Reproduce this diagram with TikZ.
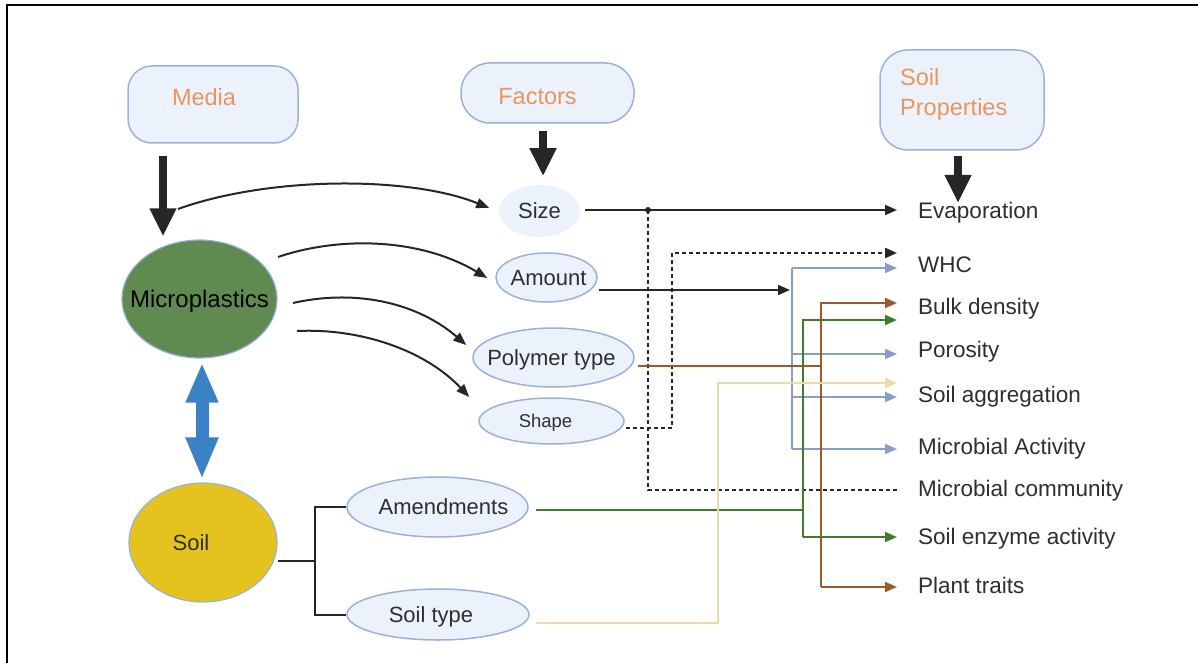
\documentclass[tikz,border=0pt]{standalone}
\usepackage{fontspec}
\setmainfont{Liberation Sans}
\usetikzlibrary{arrows.meta,shapes.geometric,calc}

\definecolor{boxfill}{HTML}{EBF2FB}
\definecolor{boxline}{HTML}{9BB1DC}
\definecolor{headtxt}{HTML}{E8955E}
\definecolor{mpgreen}{HTML}{5F8B50}
\definecolor{soilgold}{HTML}{E5C31F}
\definecolor{dblue}{HTML}{3A81C5}
\definecolor{busblue}{HTML}{8A9CC8}
\definecolor{brownln}{HTML}{9B5A2B}
\definecolor{greenln}{HTML}{3F7D2B}
\definecolor{beigeln}{HTML}{E8DCAE}
\definecolor{txt}{HTML}{2E2E2E}
\definecolor{ink}{HTML}{262626}

% zero-width text so that the ellipse keeps its given size
\newcommand{\zerowd}[1]{\makebox[0pt]{#1}}

\begin{document}
\begin{tikzpicture}[x=1pt,y=-1pt,
  headbox/.style={draw=boxline, line width=1.5pt, fill=boxfill, inner sep=0pt},
  headtext/.style={text=headtxt, font=\fontsize{23.5}{30}\selectfont, inner sep=0pt,
    text height=16.8pt, text depth=0pt},
  factor/.style={ellipse, draw=boxline, line width=1.5pt, fill=boxfill, inner sep=0pt,
    text=txt, font=\fontsize{22}{26}\selectfont, text height=15.8pt, text depth=0pt},
  prop/.style={anchor=west, inner sep=0pt, text=txt, font=\fontsize{22.5}{26}\selectfont,
    text height=16pt, text depth=0pt},
  bigarrow/.style={draw=ink, line width=8pt, -{Triangle[length=28pt,width=25pt]}},
  tip/.style={-{Triangle[length=12pt,width=10pt]}},
  conn/.style={draw=ink, line width=2pt},
  curvearrow/.style={draw=ink, line width=2pt, -{Triangle[length=13pt,width=10pt]}},
  dotline/.style={draw=ink, line width=2.2pt, dash pattern=on 4pt off 3pt},
  blueln/.style={draw=busblue, line width=2pt},
  brownline/.style={draw=brownln, line width=2pt},
  greenline/.style={draw=greenln, line width=2pt},
  beigeline/.style={draw=beigeln, line width=2pt},
]
\useasboundingbox (0,0) rectangle (1198,663);

% frame
\draw[line width=2.5pt, black] (7,663) -- (7,5) -- (1198,5);

% heading boxes
\node[headbox, rounded corners=24pt, minimum width=170pt, minimum height=77pt] (mediabox) at (213,104.5) {};
\node[headtext] (medialabel) at (204,96.7) {Media};
\node[headbox, rounded corners=29pt, minimum width=173pt, minimum height=60pt] (factbox) at (547.5,93) {};
\node[headtext] (factlabel) at (537.5,96) {Factors};
\node[headbox, rounded corners=28pt, minimum width=164pt, minimum height=100pt] (spbox) at (962,100) {};
\node[text=headtxt, font=\fontsize{23.5}{30}\selectfont, inner sep=0pt, align=left, anchor=west] (splabel) at (900,94) {Soil\\Properties};

% main media
\node[ellipse, draw=boxline, line width=1.2pt, fill=mpgreen, inner sep=0pt,
  minimum width=155pt, minimum height=118pt, text=black,
  font=\fontsize{24}{28}\selectfont, text height=17pt, text depth=0pt] (micro) at (199.5,299) {\zerowd{Microplastics}};
\node[ellipse, draw=boxline, line width=1.2pt, fill=soilgold, inner sep=0pt,
  minimum width=148pt, minimum height=119pt, text=txt,
  font=\fontsize{22}{26}\selectfont, text height=15.8pt, text depth=0pt] (soil) at (203,542.5) {\zerowd{Soil\hspace*{24pt}}};

% factors
\node[factor, draw=none, minimum width=81pt, minimum height=52pt] (size) at (539.5,211) {\zerowd{Size}};
\node[factor, minimum width=101pt, minimum height=49pt] (amount) at (546.5,277.5) {\zerowd{\hspace*{4pt}Amount}};
\node[factor, minimum width=161pt, minimum height=59pt] (poly) at (553.5,357.5) {\zerowd{Polymer type\hspace*{4pt}}};
\node[factor, minimum width=145pt, minimum height=46pt, font=\fontsize{18.5}{22}\selectfont, text height=13.3pt] (shape) at (551.5,421) {\zerowd{Shape\hspace*{12pt}}};
\node[factor, minimum width=181pt, minimum height=60pt] (amend) at (437.5,507) {\zerowd{\hspace*{12pt}Amendments}};
\node[factor, minimum width=182pt, minimum height=51pt] (stype) at (438,614.5) {\zerowd{Soil type\hspace*{14pt}}};

% soil properties
\node[prop] (evap) at (918,210) {Evaporation};
\node[prop] (whc) at (918,264) {WHC};
\node[prop] (bulk) at (918,306) {Bulk density};
\node[prop] (poro) at (918,349) {Porosity};
\node[prop] (aggr) at (918,394) {Soil aggregation};
\node[prop] (mact) at (918,446) {Microbial Activity};
\node[prop] (mcom) at (918,488) {Microbial community};
\node[prop] (enzy) at (918,536) {Soil enzyme activity};
\node[prop] (plant) at (918,585) {Plant traits};

% heavy arrows
\draw[bigarrow] ([xshift=-50pt,yshift=-12pt]mediabox.south) -- ([xshift=-36.5pt,yshift=3pt]micro.north);
\draw[bigarrow] ([xshift=-4.5pt,yshift=-7pt]factbox.south) -- ([xshift=3.5pt,yshift=8pt]size.north);
\draw[bigarrow] ([xshift=-4pt,yshift=-5pt]spbox.south) -- ([xshift=40pt,yshift=7pt]evap.west);
\draw[draw=dblue, line width=13pt, {Triangle[length=40pt,width=30pt]}-{Triangle[length=42pt,width=30pt]}]
  ([xshift=2.5pt,yshift=-4pt]micro.south) -- ([xshift=-1pt,yshift=3pt]soil.north);

% microplastics to factors
\draw[curvearrow] ([xshift=-21.5pt,yshift=90pt]micro.center) .. controls (270,176) and (410,176) .. ([xshift=-9pt,yshift=3pt]size.west);
\draw[curvearrow] ([xshift=78.5pt,yshift=42pt]micro.center) .. controls (340,236) and (420,238) .. ([xshift=-8pt,yshift=-0.5pt]amount.west);
\draw[curvearrow] ([xshift=93.5pt,yshift=-4pt]micro.center) .. controls (360,288) and (420,305) .. ([xshift=-6pt,yshift=12.5pt]poly.west);
\draw[curvearrow] ([xshift=97.5pt,yshift=-32pt]micro.center) .. controls (360,328) and (425,350) .. ([xshift=-9pt,yshift=24pt]shape.west);

% soil to its factors
\coordinate (soilR) at ([yshift=-18.5pt]soil.east);
\coordinate (br) at (315,561);
\draw[conn] (soilR) -- (br);
\draw[conn] (amend.west) -| (br) |- (stype.west);

% arrow ends at the property labels
\coordinate (tEvap)  at ([xshift=-21pt]evap.west);
\coordinate (tWHCa)  at ([xshift=-21pt,yshift=11pt]whc.west);
\coordinate (tWHCb)  at ([xshift=-21pt,yshift=-4pt]whc.west);
\coordinate (tBulkA) at ([xshift=-21pt,yshift=3pt]bulk.west);
\coordinate (tBulkB) at ([xshift=-21pt,yshift=-14pt]bulk.west);
\coordinate (tPor)   at ([xshift=-21pt,yshift=-5pt]poro.west);
\coordinate (tAggA)  at ([xshift=-21pt,yshift=11pt]aggr.west);
\coordinate (tAggB)  at ([xshift=-21pt,yshift=-3pt]aggr.west);
\coordinate (tMA)    at ([xshift=-21pt,yshift=-3pt]mact.west);
\coordinate (tMC)    at ([xshift=-20pt,yshift=-2pt]mcom.west);
\coordinate (tEnz)   at ([xshift=-21pt,yshift=-1pt]enzy.west);
\coordinate (tPlant) at ([xshift=-21pt,yshift=-2pt]plant.west);

% junction points
\coordinate (sizeR)   at ([xshift=4pt]size.east);
\coordinate (dotS)    at (648,210);
\coordinate (shapeR)  at ([xshift=1pt,yshift=-7pt]shape.east);
\coordinate (jog)     at (672,300);
\coordinate (amountR) at ([xshift=1pt,yshift=-12.5pt]amount.east);
\coordinate (busBlue) at (792,290);
\coordinate (polyR)   at ([xshift=3pt,yshift=-8.5pt]poly.east);
\coordinate (busBrown) at (821,366);
\coordinate (amendR)  at ([xshift=7pt,yshift=-3pt]amend.east);
\coordinate (busGreen) at (803,510);
\coordinate (stypeR)  at ([xshift=6pt,yshift=-8.5pt]stype.east);
\coordinate (jogB)    at (718,500);

% size -> evaporation, and dotted branch to microbial community
\draw[conn, tip] (sizeR |- tEvap) -- (tEvap);
\fill[ink] (dotS) circle (3pt);
\draw[dotline] (dotS) |- (tMC);

% shape -> WHC (dashed)
\draw[dotline, tip] (shapeR) -| (jog) |- (tWHCa);

% amount -> blue distribution
\draw[conn, tip, shorten >=2pt] (amountR) -- (busBlue |- amountR);
\draw[blueln] (busBlue |- tWHCb) -- (busBlue |- tMA);
\foreach \t in {tWHCb,tPor,tAggB,tMA}
  \draw[blueln, tip] (busBlue |- \t) -- (\t);

% polymer type -> brown
\draw[brownline] (polyR) -- (busBrown);
\draw[brownline, tip] (busBrown |- tPlant) |- (tBulkA);
\draw[brownline, tip] (busBrown |- tPlant) -- (tPlant);

% amendments -> green
\draw[greenline] (amendR) -- (busGreen |- amendR);
\draw[greenline, tip] (busGreen |- tEnz) |- (tBulkB);
\draw[greenline, tip] (busGreen |- tEnz) -- (tEnz);

% soil type -> soil aggregation
\draw[beigeline, tip] (stypeR) -| (jogB) |- (tAggA);

\end{tikzpicture}
\end{document}
